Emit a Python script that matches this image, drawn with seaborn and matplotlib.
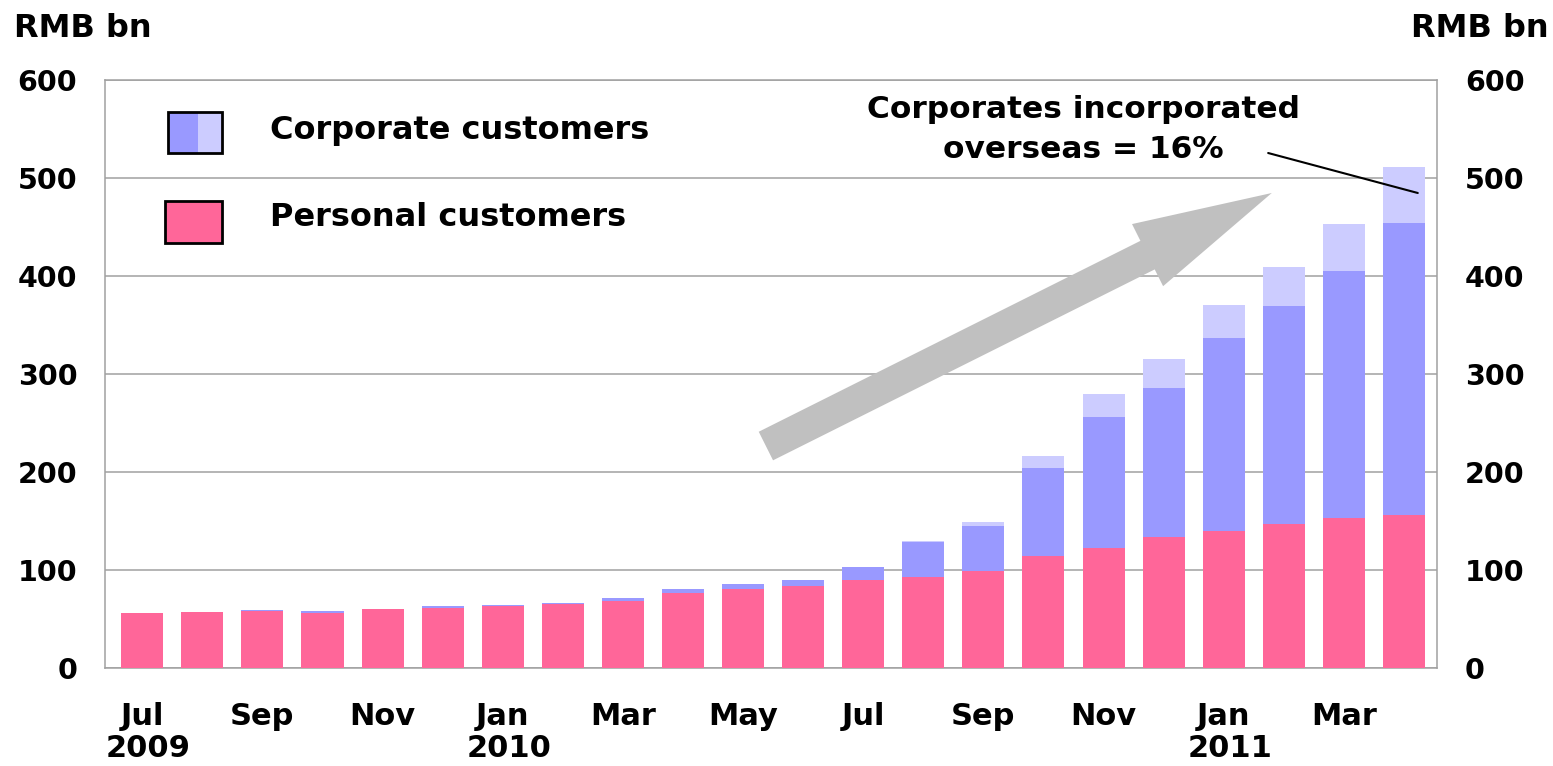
import matplotlib
matplotlib.use("Agg")
import matplotlib.pyplot as plt
import matplotlib.patches as mpatches
import numpy as np
import pandas as pd
import seaborn as sns

# ---- data (RMB bn) ----
months = ["Jul 2009", "Aug 2009", "Sep 2009", "Oct 2009", "Nov 2009", "Dec 2009",
          "Jan 2010", "Feb 2010", "Mar 2010", "Apr 2010", "May 2010", "Jun 2010",
          "Jul 2010", "Aug 2010", "Sep 2010", "Oct 2010", "Nov 2010", "Dec 2010",
          "Jan 2011", "Feb 2011", "Mar 2011", "Apr 2011"]
personal = [56.0, 57.6, 58.6, 56.6, 60.3, 61.4, 62.8, 65.5, 68.6, 76.6, 81.0, 83.8,
            89.7, 93.2, 99.3, 114.7, 122.3, 133.4, 140.1, 146.6, 152.7, 156.1]
corporate_onshore = [0.0, 0.0, 0.3, 1.3, 0.0, 2.0, 1.7, 1.1, 2.4, 4.4, 4.9, 6.0,
                     13.0, 35.2, 45.2, 89.8, 133.5, 151.9, 196.5, 222.4, 252.3, 298.4]
corporate_overseas = [0.0, 0.0, 0.0, 0.0, 0.0, 0.0, 0.0, 0.0, 0.0, 0.0, 0.0, 0.0,
                      0.7, 1.6, 4.1, 11.9, 24.2, 29.7, 34.2, 39.7, 47.8, 56.8]
tick_labels = ["Jul", "Sep", "Nov", "Jan", "Mar", "May", "Jul", "Sep", "Nov", "Jan", "Mar"]
year_labels = {"2009": 0, "2010": 6, "2011": 18}
y_ticks = [0, 100, 200, 300, 400, 500, 600]

PINK = "#FF6699"
BLUE = "#9999FF"
LIGHT = "#CCCCFF"

sns.set_style("white")
plt.rcParams["font.family"] = ["DejaVu Sans"]
plt.rcParams["font.weight"] = "bold"
plt.rcParams["text.color"] = "black"
plt.rcParams["xtick.labelcolor"] = "black"
plt.rcParams["ytick.labelcolor"] = "black"

df = pd.DataFrame({"month": months, "personal": personal,
                   "onshore": corporate_onshore, "overseas": corporate_overseas})
df["corp_top"] = df["personal"] + df["onshore"]
df["total"] = df["corp_top"] + df["overseas"]

fig = plt.figure(figsize=(15.53, 7.66), dpi=100)
ax = fig.add_axes([105 / 1553, 1 - 668 / 766, 1332 / 1553, 588 / 766])

bw = 0.70
sns.barplot(data=df, x="month", y="total", color=LIGHT, saturation=1, width=bw,
            order=months, ax=ax, zorder=3)
sns.barplot(data=df, x="month", y="corp_top", color=BLUE, saturation=1, width=bw,
            order=months, ax=ax, zorder=3)
sns.barplot(data=df, x="month", y="personal", color=PINK, saturation=1, width=bw,
            order=months, ax=ax, zorder=3)
for p in ax.patches:
    p.set_edgecolor("none")

n = len(months)
ax.set_xlim(-0.62, n - 0.45)
ax.set_ylim(0, 600)
ax.set_yticks(y_ticks)
ax.set_yticklabels([str(v) for v in y_ticks])
ax.yaxis.grid(True, color="#A0A0A0", linewidth=1.1, zorder=0)
ax.set_axisbelow(True)
ax.tick_params(axis="y", which="both", length=0, labelleft=True, labelright=True,
               labelsize=20.5, pad=20)
for lab in ax.get_yticklabels():
    lab.set_fontweight("bold")

ax.set_xticks(np.arange(-0.5, n, 1.0))
ax.set_xticklabels([])
ax.tick_params(axis="x", which="major", length=8, width=1, color="#A0A0A0")
ax.set_xlabel("")
ax.set_ylabel("")

for side in ["left", "right", "top", "bottom"]:
    ax.spines[side].set_visible(True)
    ax.spines[side].set_color("#A0A0A0")
    ax.spines[side].set_linewidth(1.1)

xt = ax.get_xaxis_transform()
for i, lab in zip(range(0, n, 2), tick_labels):
    ax.text(i, -0.097, lab, transform=xt, ha="center", va="baseline",
            fontsize=22, fontweight="bold")
for yr, pos in year_labels.items():
    ax.text(pos + 0.1, -0.151, yr, transform=xt, ha="center", va="baseline",
            fontsize=22, fontweight="bold")

# axis unit labels
fig.text(14 / 1553, 1 - 37 / 766, "RMB bn", ha="left", va="baseline", fontsize=23, fontweight="bold")
fig.text(1 - 4 / 1553, 1 - 37 / 766, "RMB bn", ha="right", va="baseline", fontsize=23, fontweight="bold")

# legend (manual)
ta = ax.transAxes
ax.add_patch(mpatches.Rectangle((0.0473, 0.876), 0.0225, 0.0696, transform=ta,
                                facecolor=BLUE, edgecolor="none", zorder=5))
ax.add_patch(mpatches.Rectangle((0.0698, 0.876), 0.018, 0.0696, transform=ta,
                                facecolor=LIGHT, edgecolor="none", zorder=5))
ax.add_patch(mpatches.Rectangle((0.0473, 0.876), 0.0405, 0.0696, transform=ta,
                                facecolor="none", edgecolor="black", linewidth=2, zorder=6))
ax.add_patch(mpatches.Rectangle((0.045, 0.7223), 0.0426, 0.0724, transform=ta,
                                facecolor=PINK, edgecolor="black", linewidth=2, zorder=6))
ax.text(0.1239, 0.900, "Corporate customers", transform=ta, ha="left", va="baseline",
        fontsize=23, fontweight="bold", zorder=6)
ax.text(0.1239, 0.752, "Personal customers", transform=ta, ha="left", va="baseline",
        fontsize=23, fontweight="bold", zorder=6)

# big trend arrow
ax.annotate("", xy=(18.8, 484.7), xytext=(10.38, 226.5),
            arrowprops=dict(arrowstyle="simple,head_length=10,head_width=5,tail_width=2.3",
                            mutation_scale=10, facecolor="#C0C0C0", edgecolor="none",
                            shrinkA=0, shrinkB=0), zorder=2)

# annotation text + leader line
ax.text(15.66, 561.0, "Corporates incorporated", ha="center", va="baseline",
        fontsize=22.5, fontweight="bold", zorder=6)
ax.text(15.66, 520.5, "overseas = 16%", ha="center", va="baseline",
        fontsize=22.5, fontweight="bold", zorder=6)
ax.annotate("", xy=(21.23, 484.7), xytext=(18.74, 525.5),
            arrowprops=dict(arrowstyle="-", color="black", linewidth=1.5,
                            shrinkA=0, shrinkB=0), zorder=6)

fig.savefig("out.png", dpi=100)
